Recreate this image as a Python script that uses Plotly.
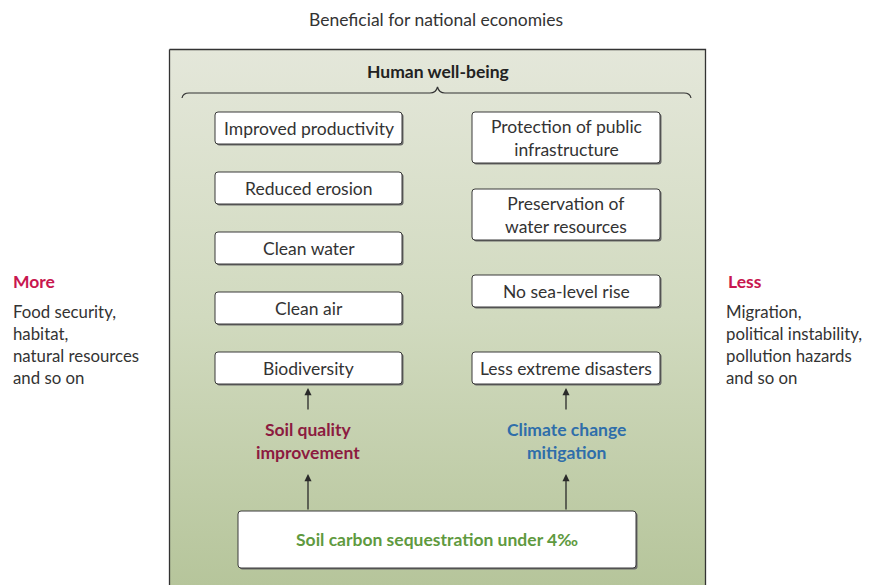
import plotly.graph_objects as go

# ---- data (texts) ----
title_text = "Beneficial for national economies"
header_text = "Human well-being"
left_items = ["Improved productivity", "Reduced erosion", "Clean water", "Clean air", "Biodiversity"]
right_items = ["Protection of public<br>infrastructure", "Preservation of<br>water resources",
               "No sea-level rise", "Less extreme disasters"]
left_driver = "Soil quality<br>improvement"
right_driver = "Climate change<br>mitigation"
base_text = "Soil carbon sequestration under 4‰"
more_title = "More"
more_lines = ["Food security,", "habitat,", "natural resources", "and so on"]
less_title = "Less"
less_lines = ["Migration,", "political instability,", "pollution hazards", "and so on"]

# ---- layout constants ----
W, H = 871, 585
OFF = 8  # page body margin
FONT = "Lato"
TXT = "#333333"
CRIMSON = "#c8174f"
MAROON = "#8c1b40"
BLUE = "#2f6eaa"
GREEN = "#5f9a3f"
FS = 17.5
FS_SIDE = 16.8

left_x = (215, 402)
left_y = [(112, 144), (172, 204), (232, 264), (292, 324), (352, 384)]
right_x = (472, 660)
right_y = [(112, 163), (189, 240), (275, 307), (352, 384)]

fig = go.Figure()

# panel with vertical gradient
px0, px1, py0, py1 = 169.5, 705.5, 49.5, 595
fig.add_trace(go.Scatter(
    x=[px0, px1, px1, px0, px0], y=[py0, py0, py1, py1, py0],
    mode="lines", line=dict(color="#333333", width=1.3),
    fill="toself",
    fillgradient=dict(type="vertical", start=py0, stop=585,
                      colorscale=[[0, "#e4e7da"], [0.5, "#d1dabf"], [1, "#b6c59b"]]),
    hoverinfo="skip", showlegend=False, cliponaxis=False))


def rrect(x0, y0, x1, y1, r=3):
    return (f"M {x0+r} {y0} L {x1-r} {y0} Q {x1} {y0} {x1} {y0+r} "
            f"L {x1} {y1-r} Q {x1} {y1} {x1-r} {y1} L {x0+r} {y1} "
            f"Q {x0} {y1} {x0} {y1-r} L {x0} {y0+r} Q {x0} {y0} {x0+r} {y0} Z")


shapes = []
annotations = []


def box(x0, y0, x1, y1, text, size=FS, color=TXT, bold=False, r=3):
    shapes.append(dict(type="path", path=rrect(x0 + 1.5, y0 + 1.5, x1 + 1.5, y1 + 1.5, r),
                       fillcolor="#6a6a6a", line=dict(width=0), layer="above"))
    shapes.append(dict(type="path", path=rrect(x0, y0, x1, y1, r),
                       fillcolor="white", line=dict(color="#3a3a3a", width=1), layer="above"))
    t = f"<b>{text}</b>" if bold else text
    annotations.append(dict(x=(x0 + x1) / 2, y=(y0 + y1) / 2, text=t, showarrow=False,
                            font=dict(family=FONT, size=size, color=color),
                            xanchor="center", yanchor="middle", align="center"))


for (y0, y1), t in zip(left_y, left_items):
    box(left_x[0], y0, left_x[1], y1, t)
for (y0, y1), t in zip(right_y, right_items):
    box(right_x[0], y0, right_x[1], y1, t)
box(238, 511, 636, 568, base_text, size=FS, color=GREEN, bold=True)

# brace
shapes.append(dict(type="path",
                   path="M 182 98 Q 183 93 189 93 L 430 93 Q 436 93 437.5 87 Q 439 93 445 93 "
                        "L 684 93 Q 690 93 691 98",
                   line=dict(color="#333333", width=1.2), layer="above"))

# arrows
for xa in (308, 566):
    annotations.append(dict(x=xa, y=388, ax=xa, ay=411, xref="x", yref="y", axref="x", ayref="y",
                            text="", showarrow=True, arrowhead=2, arrowsize=1.1, arrowwidth=1.3,
                            arrowcolor="#2a2a2a"))
    annotations.append(dict(x=xa, y=474, ax=xa, ay=511, xref="x", yref="y", axref="x", ayref="y",
                            text="", showarrow=True, arrowhead=2, arrowsize=1.1, arrowwidth=1.3,
                            arrowcolor="#2a2a2a"))

annotations.append(dict(x=308, y=441, text=f"<b>{left_driver}</b>", showarrow=False,
                        font=dict(family=FONT, size=FS, color=MAROON), align="center"))
annotations.append(dict(x=566, y=441, text=f"<b>{right_driver}</b>", showarrow=False,
                        font=dict(family=FONT, size=FS, color=BLUE), align="center"))

annotations.append(dict(x=436, y=19, text=title_text, showarrow=False,
                        font=dict(family=FONT, size=FS, color=TXT)))
annotations.append(dict(x=438, y=71, text=f"<b>{header_text}</b>", showarrow=False,
                        font=dict(family=FONT, size=FS, color="#222222")))

# side texts
annotations.append(dict(x=11, y=281, text=f"<b>{more_title}</b>", showarrow=False, xanchor="left",
                        font=dict(family=FONT, size=FS, color=CRIMSON)))
annotations.append(dict(x=726, y=281, text=f"<b>{less_title}</b>", showarrow=False, xanchor="left",
                        font=dict(family=FONT, size=FS, color=CRIMSON)))
for i, t in enumerate(more_lines):
    annotations.append(dict(x=11, y=311 + 22 * i, text=t, showarrow=False, xanchor="left",
                            font=dict(family=FONT, size=FS_SIDE, color=TXT)))
for i, t in enumerate(less_lines):
    annotations.append(dict(x=724, y=311 + 22 * i, text=t, showarrow=False, xanchor="left",
                            font=dict(family=FONT, size=FS_SIDE, color=TXT)))

for a in annotations:
    a.setdefault("xref", "x")
    a.setdefault("yref", "y")

fig.update_layout(
    width=W - OFF, height=H - OFF, margin=dict(l=0, r=0, t=0, b=0),
    paper_bgcolor="white", plot_bgcolor="white",
    xaxis=dict(range=[OFF, W], visible=False, fixedrange=True),
    yaxis=dict(range=[H, OFF], visible=False, fixedrange=True),
    shapes=shapes, annotations=annotations, showlegend=False,
)

fig.write_html("out.html", config={"displayModeBar": False})
